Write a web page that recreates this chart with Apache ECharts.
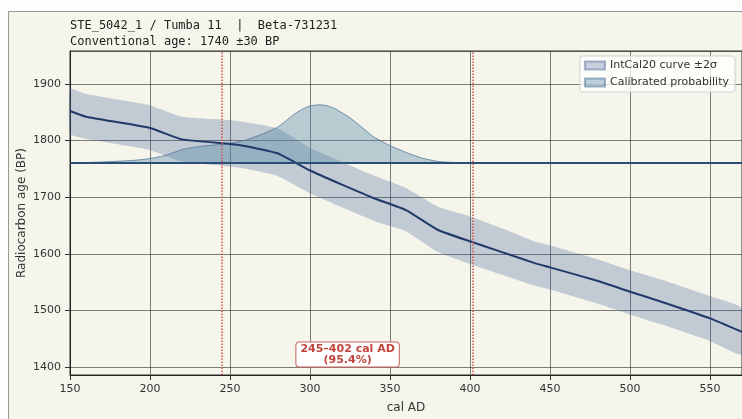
<!DOCTYPE html>
<html>
<head>
    <meta charset="utf-8">
    <title>Calibration</title>
    <script type="text/javascript" src="https://cdn.jsdelivr.net/npm/echarts@6/dist/echarts.min.js"></script>
    <style>
        html, body { margin: 0; padding: 0; background: #fdfdfb; }
    </style>
</head>
<body>
<div id="main" style="width: 742px;height:419px;"></div>
<script type="text/javascript">

    // IntCal20 curve (cal AD -> BP)
    var calYears = [150, 160, 200, 220, 250, 260, 280, 300, 320, 340, 360, 380, 400, 420, 440, 450, 480, 500, 520, 550, 570];
    var curveMean = [1852, 1842, 1822, 1802, 1794, 1790, 1777, 1747, 1722, 1698, 1677, 1642, 1622, 1603, 1584, 1576, 1552, 1533, 1515, 1486, 1462];
    var curveUpper = [1891, 1882, 1862, 1842, 1836, 1832, 1821, 1787, 1762, 1738, 1716, 1683, 1666, 1645, 1622, 1615, 1590, 1571, 1554, 1525, 1504];
    var curveLower = [1812, 1803, 1783, 1763, 1754, 1750, 1737, 1707, 1682, 1658, 1640, 1603, 1582, 1563, 1544, 1537, 1512, 1493, 1475, 1446, 1422];

    // calibrated probability drawn on the 1760 BP baseline
    var probBase = 1760;
    var probYears = [150, 170, 190, 200, 210, 220, 230, 240, 250, 260, 270, 280, 290, 295, 300, 305, 310, 315, 320, 325, 330, 340, 350, 360, 370, 380, 390, 400, 570];
    var probTop = [1760, 1762, 1765, 1768, 1774, 1784, 1789, 1792, 1795, 1801, 1811, 1824, 1846, 1855, 1861, 1863, 1862, 1857, 1849, 1840, 1829, 1806, 1791, 1779, 1769, 1763, 1761, 1760, 1760];

    var rangeLines = [245, 402];
    var rangeText = '245\u2013402 cal AD\n(95.4%)';

    var bandFill = 'rgba(70,95,150,0.29)';
    var probFill = 'rgba(90,140,170,0.40)';

    function polygonItem(xs, lo, hi, style) {
        return function (params, api) {
            var pts = [];
            for (var i = 0; i < xs.length; i++) pts.push(api.coord([xs[i], hi[i]]));
            for (var j = xs.length - 1; j >= 0; j--) pts.push(api.coord([xs[j], lo[j]]));
            return { type: 'polygon', shape: { points: pts, smooth: 0.15 }, style: style };
        };
    }

    var probLow = probYears.map(function () { return probBase; });

    var myChart = echarts.init(document.getElementById('main'));

    var axisFont = { fontFamily: 'DejaVu Sans', fontSize: 11, color: '#333' };

    var option = {
        backgroundColor: '#fdfdfb',
        animation: false,
        title: {
            text: 'STE_5042_1 / Tumba 11  |  Beta-731231\nConventional age: 1740 \u00b130 BP',
            left: 70,
            top: 18,
            padding: 0,
            textStyle: { fontFamily: 'DejaVu Sans Mono', fontSize: 12, fontWeight: 'normal', color: '#222', lineHeight: 16 }
        },
        legend: {
            data: ['IntCal20 curve \u00b12\u03c3', 'Calibrated probability'],
            orient: 'vertical',
            right: 7,
            top: 56,
            icon: 'rect',
            itemWidth: 20,
            itemHeight: 8,
            itemGap: 6,
            padding: [4, 6, 4, 4],
            backgroundColor: 'rgba(255,255,255,0.75)',
            borderColor: '#cfcfcf',
            borderWidth: 1,
            borderRadius: 3,
            textStyle: { fontFamily: 'DejaVu Sans', fontSize: 11, color: '#333' }
        },
        grid: {
            left: 70, right: -1, top: 51, bottom: 44,
            show: true, borderColor: '#333', borderWidth: 1, backgroundColor: '#f6f5ec'
        },
        graphic: [{
            type: 'rect', z: -10, silent: true,
            shape: { x: 8.5, y: 11.5, width: 800, height: 500 },
            style: { fill: '#f6f5ec', stroke: '#999', lineWidth: 1 }
        }],
        xAxis: {
            type: 'value',
            min: 150, max: 570, interval: 50,
            name: 'cal AD', nameLocation: 'middle', nameGap: 27, nameMoveOverlap: false,
            nameTextStyle: { fontFamily: 'DejaVu Sans', fontSize: 12, color: '#333' },
            axisLine: { lineStyle: { color: '#222', width: 1 } },
            axisTick: { show: true, length: 5, lineStyle: { color: '#333' } },
            axisLabel: Object.assign({ margin: 9, showMaxLabel: false }, axisFont),
            splitLine: { show: true, lineStyle: { color: 'rgba(40,40,40,0.6)', width: 1 } }
        },
        yAxis: {
            type: 'value',
            min: 1386, max: 1958,
            name: 'Radiocarbon age (BP)', nameLocation: 'middle', nameGap: 42, nameMoveOverlap: false,
            nameTextStyle: { fontFamily: 'DejaVu Sans', fontSize: 12, color: '#333' },
            axisLine: { show: true, lineStyle: { color: '#222', width: 1 } },
            axisTick: { show: true, length: 5, lineStyle: { color: '#333' } },
            axisLabel: Object.assign({
                margin: 9, showMinLabel: false, showMaxLabel: false,
                formatter: function (v) { return String(v); }
            }, axisFont),
            splitLine: { show: true, lineStyle: { color: 'rgba(40,40,40,0.6)', width: 1 } }
        },
        series: [
            {
                name: 'IntCal20 curve \u00b12\u03c3',
                type: 'custom',
                renderItem: polygonItem(calYears, curveLower, curveUpper, { fill: bandFill }),
                data: [[calYears[0], curveMean[0]]],
                itemStyle: { color: bandFill, borderColor: 'rgba(70,95,150,0.45)', borderWidth: 1 },
                z: 2
            },
            {
                name: 'Calibrated probability',
                type: 'custom',
                renderItem: polygonItem(probYears, probLow, probTop, { fill: probFill, stroke: 'rgba(70,110,145,0.7)', lineWidth: 1 }),
                data: [[probYears[0], probBase]],
                itemStyle: { color: probFill, borderColor: 'rgba(70,110,145,0.5)', borderWidth: 1 },
                z: 3,
                markLine: {
                    silent: true, symbol: 'none', label: { show: false },
                    lineStyle: { color: '#2a4e78', type: 'solid', width: 1.8 },
                    data: [{ yAxis: probBase }]
                }
            },
            {
                name: 'mean',
                type: 'line',
                data: calYears.map(function (x, i) { return [x, curveMean[i]]; }),
                showSymbol: false,
                smooth: 0.15,
                lineStyle: { color: '#1f3a68', width: 2 },
                z: 4,
                markLine: {
                    silent: true, symbol: 'none', label: { show: false },
                    lineStyle: { color: '#d0504a', type: 'dotted', width: 1.5 },
                    data: rangeLines.map(function (v) { return { xAxis: v }; })
                }
            }
        ]
    };

    myChart.setOption(option);

    // range label, placed at its data position
    var mid = (rangeLines[0] + rangeLines[1]) / 2;
    var pos = myChart.convertToPixel({ gridIndex: 0 }, [mid, 1422]);
    myChart.setOption({
        graphic: [option.graphic[0], {
            type: 'text', z: 100, silent: true,
            x: pos[0], y: pos[1],
            style: {
                text: rangeText,
                align: 'center', verticalAlign: 'middle',
                fontFamily: 'DejaVu Sans', fontSize: 11, fontWeight: 'bold', lineHeight: 11,
                fill: '#c0443c',
                backgroundColor: '#ffffff', borderColor: '#c9605a', borderWidth: 1, borderRadius: 3,
                padding: [1, 4, 1, 4]
            }
        }]
    });

</script>
</body>
</html>
